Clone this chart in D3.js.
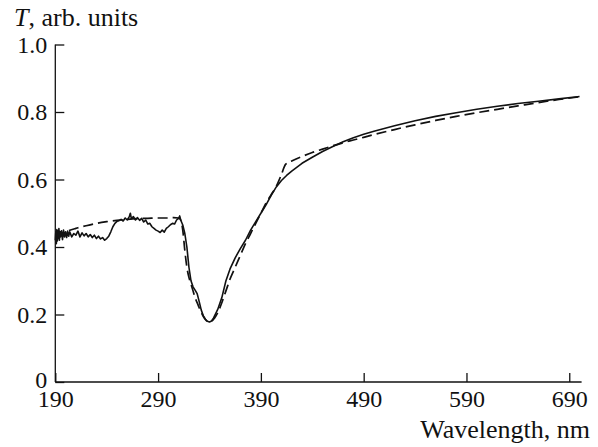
<!DOCTYPE html>
<html><head><meta charset="utf-8">
<script src="https://cdn.jsdelivr.net/npm/d3@7"></script>
<style>body{margin:0;background:#fff}svg{display:block}</style>
</head><body><svg id="c" width="598" height="447"></svg>
<script>
// measured (solid) curve
const measWl = [190,190.5,191,191.5,192,192.5,193,193.5,194,194.5,195,196,197,198,199,200,201,202,203,204,206,208,210,212,214,216,218,220,222,224,226,228,230,232,234,236,238,240,242,244,246,248,250,252,254,256,258,260,262,263,264,266,268,270,272,274,276,278,280,282,284,286,288,290,292,294,296,298,300,302,304,306,308,310,311,312,314,316,318,320,322,324,326,328,330,332,334,336,338,340,342,344,348,352,356,360,365,370,375,380,385,390,395,400,405,410,415,420,430,440,450,460,470,480,490,500,520,540,560,580,600,620,640,660,680,700];
const measT = [0.42,0.445,0.41,0.452,0.418,0.448,0.425,0.455,0.42,0.446,0.43,0.448,0.422,0.45,0.43,0.445,0.428,0.447,0.432,0.445,0.43,0.44,0.435,0.447,0.43,0.442,0.433,0.44,0.43,0.437,0.428,0.435,0.425,0.432,0.424,0.428,0.42,0.425,0.432,0.445,0.46,0.47,0.476,0.478,0.482,0.477,0.486,0.48,0.49,0.5,0.484,0.49,0.48,0.487,0.479,0.485,0.474,0.48,0.468,0.47,0.46,0.455,0.45,0.447,0.443,0.45,0.444,0.455,0.46,0.466,0.47,0.468,0.48,0.485,0.492,0.48,0.465,0.44,0.4,0.34,0.3,0.282,0.272,0.262,0.238,0.213,0.196,0.186,0.18,0.178,0.181,0.19,0.215,0.25,0.3,0.335,0.368,0.395,0.42,0.45,0.475,0.5,0.525,0.553,0.578,0.597,0.612,0.625,0.648,0.666,0.683,0.698,0.712,0.724,0.734,0.743,0.759,0.774,0.787,0.798,0.808,0.817,0.825,0.832,0.839,0.846];
// calculated (dashed) curve
const calcWl = [190,200,210,220,230,240,250,260,270,280,290,300,305,310,312,314,316,318,320,322,324,326,328,330,333,336,339,342,345,348,352,356,360,365,370,375,380,385,390,395,400,405,410,414,420,430,440,450,460,470,480,490,500,520,540,560,580,600,620,640,660,680,700];
const calcT = [0.43,0.445,0.455,0.463,0.47,0.475,0.479,0.482,0.484,0.485,0.486,0.486,0.487,0.486,0.48,0.45,0.39,0.34,0.31,0.29,0.27,0.25,0.235,0.22,0.2,0.185,0.178,0.18,0.19,0.205,0.235,0.27,0.305,0.34,0.375,0.41,0.44,0.47,0.5,0.53,0.555,0.58,0.615,0.645,0.655,0.668,0.68,0.69,0.7,0.709,0.717,0.725,0.733,0.748,0.762,0.775,0.787,0.798,0.808,0.818,0.828,0.837,0.845];
const xTicks = [190,290,390,490,590,690];
const yTicks = [0,0.2,0.4,0.6,0.8,1.0];

const FONT = '"Liberation Serif"';
const svg = d3.select("#c");
const x = d3.scaleLinear().domain([190,702]).range([55.3,581.6]);
const y = d3.scaleLinear().domain([0,1]).range([382,44.5]);

const xAxis = d3.axisBottom(x).tickValues(xTicks).tickSize(-9).tickPadding(8).tickFormat(d3.format("d"));
const gx = svg.append("g").attr("transform","translate(0,382)").call(xAxis);
gx.select(".domain").attr("d",`M${x.range()[0]},0H${x.range()[1]}`);
const yAxis = d3.axisLeft(y).tickValues(yTicks).tickSize(-9).tickPadding(8).tickFormat(d=>d===0?"0":d3.format(".1f")(d));
const gy = svg.append("g").attr("transform","translate(55.3,0)").call(yAxis);
gy.select(".domain").attr("d",`M0,${y.range()[0]}V${y.range()[1]}`);
svg.selectAll(".domain").attr("stroke","#111").attr("stroke-width",1.3);
svg.selectAll(".tick line").attr("stroke","#111").attr("stroke-width",1.3);
svg.selectAll("g").attr("font-family",null).attr("font-size",null);
svg.selectAll(".tick text").style("font-family",FONT).style("font-size","24px").attr("fill","#111");
gy.selectAll(".tick text").attr("dy",d=>d===0?"0.22em":"0.33em");
gx.selectAll(".tick text").attr("dy","0.71em");

const line = d3.line().x(d=>x(d[0])).y(d=>y(d[1])).curve(d3.curveLinear);
svg.append("path").datum(calcWl.map((w,i)=>[w,calcT[i]]))
  .attr("d",d3.line().x(d=>x(d[0])).y(d=>y(d[1])).curve(d3.curveMonotoneX))
  .attr("fill","none").attr("stroke","#111").attr("stroke-width",1.7).attr("stroke-dasharray","10,5");
svg.append("path").datum(measWl.map((w,i)=>[w,measT[i]]))
  .attr("d",line).attr("fill","none").attr("stroke","#111").attr("stroke-width",1.6).attr("stroke-linejoin","round");

const yl = svg.append("text").attr("x",14).attr("y",26).style("font-family",FONT).style("font-size","26px").attr("fill","#111");
yl.append("tspan").style("font-style","italic").text("T");
yl.append("tspan").text(", arb. units");
svg.append("text").attr("x",590).attr("y",438).style("font-family",FONT).style("font-size","26px").attr("fill","#111").attr("text-anchor","end").text("Wavelength, nm");
</script></body></html>
